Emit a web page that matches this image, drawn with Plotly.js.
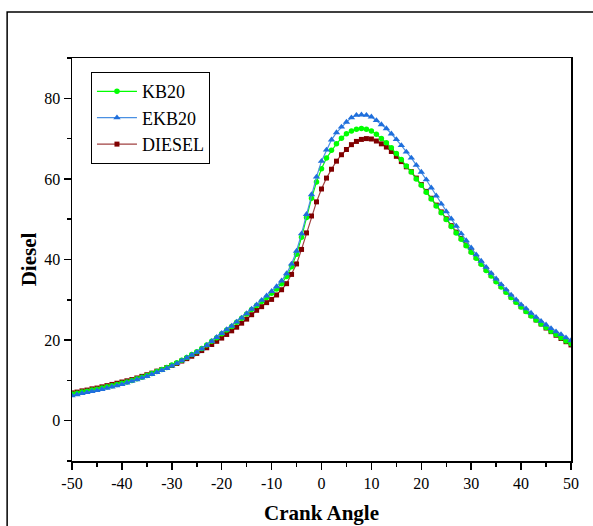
<!DOCTYPE html>
<html>
<head>
<meta charset="utf-8">
<script src="https://cdn.plot.ly/plotly-3.0.1.min.js"></script>
<style>
  html, body { margin: 0; padding: 0; background: #fff; }
  #chart { width: 593px; height: 526px; }
</style>
</head>
<body>
<div id="chart"></div>
<script>
// Crank angle (degrees)
const crankAngle = [];
for (let a = -50; a <= 50; a++) crankAngle.push(a);

const kb20 = [
  6.6, 6.8, 7.1, 7.3, 7.6, 7.8, 8.1, 8.4, 8.7, 9.0,
  9.3, 9.6, 10.0, 10.4, 10.8, 11.2, 11.7, 12.2, 12.7, 13.2,
  13.8, 14.4, 15.0, 15.7, 16.4, 17.1, 17.9, 18.8, 19.7, 20.6,
  21.6, 22.5, 23.4, 24.4, 25.4, 26.5, 27.6, 28.6, 29.6, 30.6,
  31.6, 32.7, 34.0, 35.8, 38.2, 41.3, 45.5, 50.4, 55.2, 59.2,
  62.5, 65.2, 67.1, 68.7, 70.1, 71.2, 71.9, 72.3, 72.5, 72.3,
  71.9, 71.1, 70.0, 69.0, 67.7, 66.3, 64.8, 63.2, 61.7, 60.0,
  58.4, 56.7, 55.0, 53.3, 51.6, 49.9, 48.2, 46.6, 45.0, 43.4,
  41.8, 40.3, 38.8, 37.3, 35.9, 34.5, 33.2, 31.9, 30.6, 29.4,
  28.2, 27.1, 26.0, 25.0, 24.0, 23.1, 22.2, 21.4, 20.6, 19.8,
  19.1
];

const ekb20 = [
  6.2, 6.5, 6.8, 7.0, 7.3, 7.5, 7.8, 8.1, 8.4, 8.7,
  9.0, 9.4, 9.8, 10.2, 10.6, 11.0, 11.5, 12.0, 12.5, 13.0,
  13.6, 14.2, 14.9, 15.6, 16.3, 17.0, 17.8, 18.7, 19.7, 20.7,
  21.7, 22.6, 23.5, 24.5, 25.5, 26.6, 27.7, 28.8, 29.9, 31.0,
  32.1, 33.3, 34.7, 36.5, 38.9, 42.1, 46.4, 51.2, 56.1, 60.5,
  64.4, 67.2, 69.7, 71.5, 72.9, 74.1, 75.2, 75.8, 75.9, 75.8,
  75.4, 74.5, 73.5, 72.5, 71.2, 69.8, 68.3, 66.7, 65.2, 63.4,
  61.7, 59.8, 57.8, 55.8, 53.8, 51.9, 50.1, 48.3, 46.4, 44.7,
  42.9, 41.2, 39.6, 38.1, 36.6, 35.2, 33.8, 32.5, 31.2, 30.0,
  28.8, 27.8, 26.7, 25.7, 24.7, 23.8, 22.9, 22.1, 21.4, 20.6,
  19.9
];

const diesel = [
  6.9, 7.1, 7.4, 7.6, 7.9, 8.1, 8.4, 8.7, 9.0, 9.3,
  9.6, 9.9, 10.2, 10.6, 11.0, 11.4, 11.8, 12.3, 12.7, 13.2,
  13.7, 14.2, 14.8, 15.4, 16.0, 16.7, 17.4, 18.1, 18.9, 19.7,
  20.5, 21.4, 22.3, 23.2, 24.2, 25.2, 26.3, 27.4, 28.3, 29.3,
  30.1, 31.2, 32.5, 34.0, 36.3, 38.9, 42.5, 46.6, 50.8, 54.3,
  57.5, 60.2, 62.4, 64.4, 66.0, 67.3, 68.5, 69.3, 69.8, 70.0,
  69.9, 69.4, 68.7, 67.9, 66.8, 65.6, 64.3, 63.0, 61.8, 60.2,
  58.6, 56.9, 55.2, 53.5, 51.8, 50.1, 48.4, 46.8, 45.2, 43.6,
  42.0, 40.5, 39.0, 37.5, 36.1, 34.7, 33.3, 32.0, 30.7, 29.5,
  28.3, 27.2, 26.1, 25.0, 24.0, 23.0, 22.1, 21.2, 20.4, 19.6,
  18.8
];

const yTicks = [0, 20, 40, 60, 80];
const xTicks = [-50, -40, -30, -20, -10, 0, 10, 20, 30, 40, 50];

const FONT = 'Liberation Serif, Times New Roman, serif';

const traces = [
  {
    x: crankAngle, y: diesel, name: 'DIESEL', type: 'scatter', mode: 'lines+markers',
    line: {color: 'rgba(128,0,0,0.75)', width: 1.2},
    marker: {symbol: 'square', size: 5, color: '#800000'},
    legendrank: 3
  },
  {
    x: crankAngle, y: kb20, name: 'KB20', type: 'scatter', mode: 'lines+markers',
    line: {color: '#00ff00', width: 1.2},
    marker: {symbol: 'circle', size: 5.5, color: '#00ff00'},
    legendrank: 1
  },
  {
    x: crankAngle, y: ekb20, name: 'EKB20', type: 'scatter', mode: 'lines+markers',
    line: {color: '#4a90e2', width: 1.2},
    marker: {symbol: 'triangle-up', size: 6.5, color: '#1f6fdc'},
    legendrank: 2
  }
];

const layout = {
  width: 593, height: 526,
  margin: {l: 72, r: 22, t: 58, b: 65},
  paper_bgcolor: '#fff', plot_bgcolor: '#fff',
  font: {family: FONT, color: '#000', size: 16},
  showlegend: true,
  legend: {
    x: 0.038, y: 0.965, xanchor: 'left', yanchor: 'top',
    bordercolor: '#000', borderwidth: 1, bgcolor: '#fff',
    font: {family: FONT, size: 18, color: '#000'},
    traceorder: 'normal', itemwidth: 40, tracegroupgap: 0
  },
  xaxis: {
    range: [-50, 50], tickvals: xTicks, ticktext: xTicks.map(String),
    ticks: 'outside', ticklen: 7, tickwidth: 1.5, tickcolor: '#000',
    minor: {dtick: 5, tick0: 0, ticks: 'outside', ticklen: 4, tickwidth: 1.5, tickcolor: '#000'},
    showline: true, linecolor: '#000', linewidth: 1.5, mirror: true,
    showgrid: false, zeroline: false,
    tickfont: {family: FONT, size: 16, color: '#000'},
    title: {text: '<b>Crank Angle</b>', font: {family: FONT, size: 21, color: '#000'}, standoff: 14}
  },
  yaxis: {
    range: [-10, 90], tickvals: yTicks, ticktext: yTicks.map(String),
    ticks: 'outside', ticklen: 7, tickwidth: 1.5, tickcolor: '#000',
    minor: {dtick: 10, tick0: 0, ticks: 'outside', ticklen: 4, tickwidth: 1.5, tickcolor: '#000'},
    showline: true, linecolor: '#000', linewidth: 1.5, mirror: true,
    showgrid: false, zeroline: false,
    tickfont: {family: FONT, size: 16, color: '#000'},
    title: {text: '<b>Diesel</b>', font: {family: FONT, size: 21, color: '#000'}, standoff: 2}
  },
  shapes: [{
    type: 'rect', xref: 'paper', yref: 'paper',
    x0: -0.130, x1: 1.2, y0: -0.4, y1: 1.114,
    line: {color: '#000', width: 1.5}, fillcolor: 'rgba(0,0,0,0)', layer: 'below'
  }]
};

Plotly.newPlot('chart', traces, layout, {displayModeBar: false, staticPlot: true});
</script>
</body>
</html>
